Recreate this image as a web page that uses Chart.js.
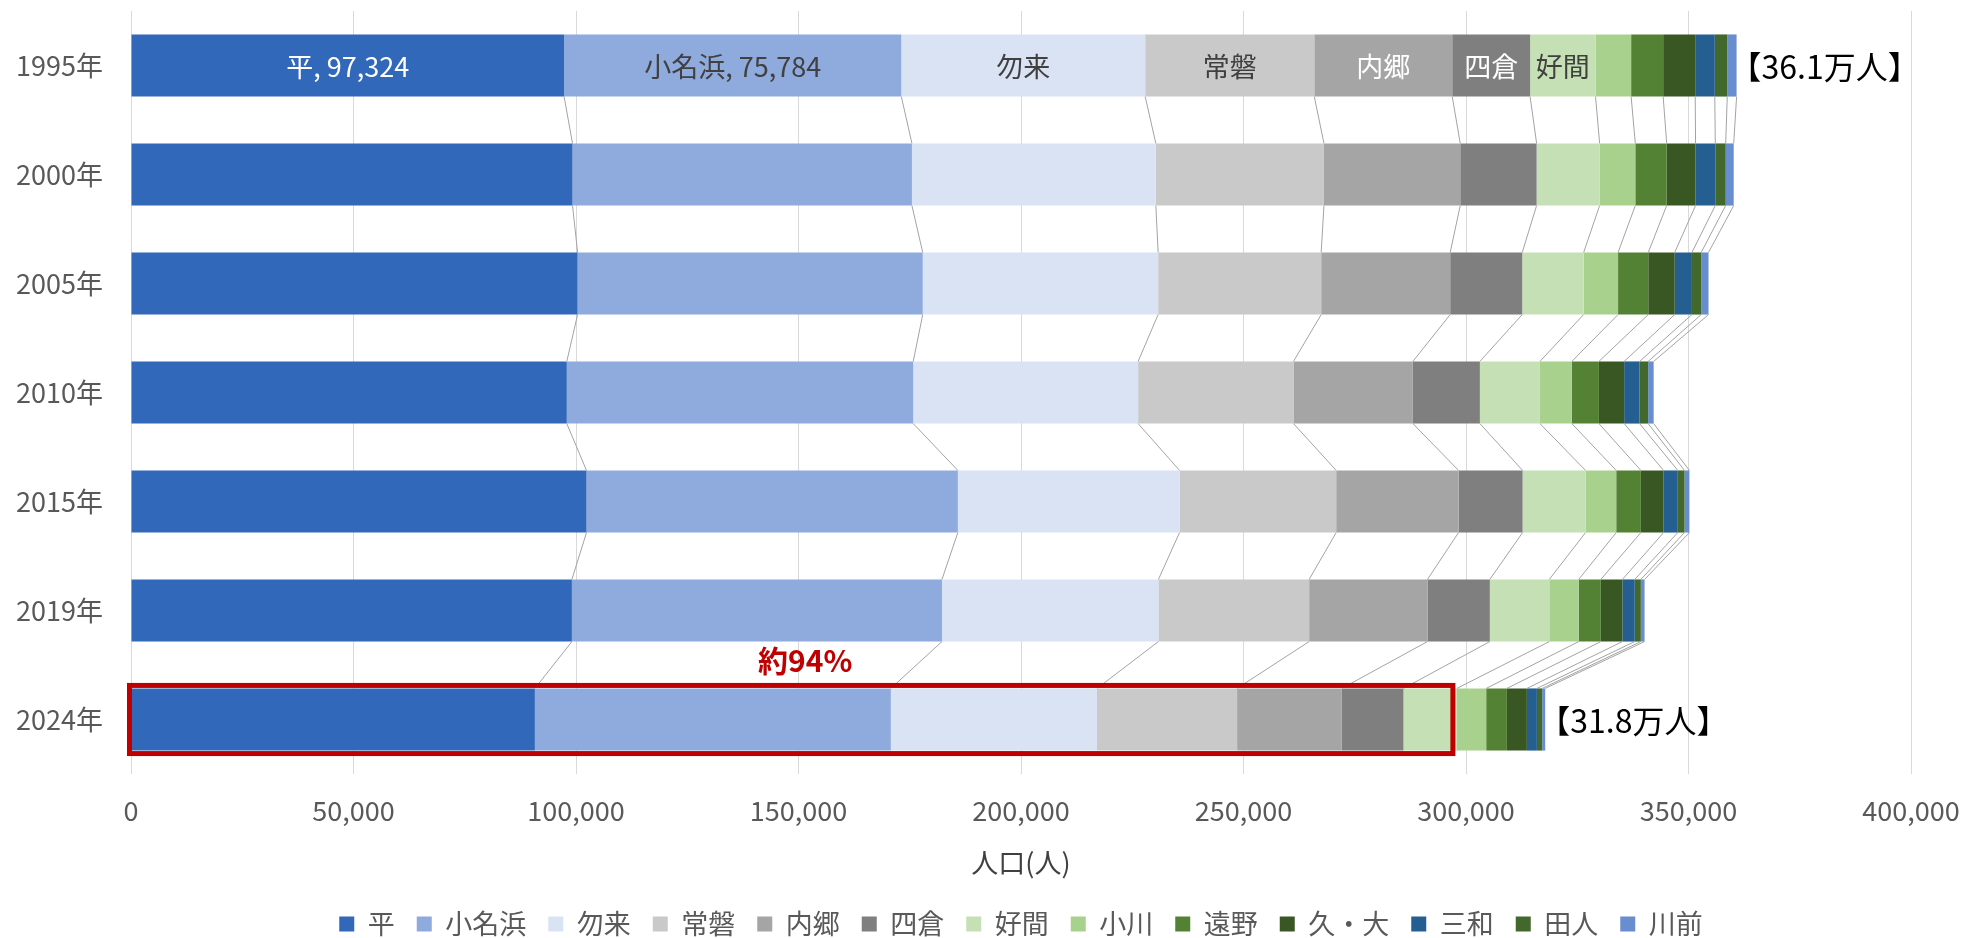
<!DOCTYPE html>
<html>
<head>
<meta charset="utf-8">
<script src="https://cdn.jsdelivr.net/npm/chart.js@4.4.1/dist/chart.umd.min.js"></script>
<style>
html,body{margin:0;padding:0;background:#ffffff;}
#wrap{width:1964px;height:938px;position:relative;}
</style>
</head>
<body>
<div id="wrap"><canvas id="c" width="1964" height="938"></canvas></div>
<script>
// ---- data ----
const years = ['1995年', '2000年', '2005年', '2010年', '2015年', '2019年', '2024年'];
const districts = ['平', '小名浜', '勿来', '常磐', '内郷', '四倉', '好間', '小川', '遠野', '久・大', '三和', '田人', '川前'];
const taira     = [97324, 99220, 100360, 97930, 102360, 99080, 90760];
const onahama   = [75784, 76270, 77560, 77850, 83450, 83160, 79990];
const nakoso    = [54800, 54810, 52900, 50540, 49820, 48640, 46330];
const joban     = [38000, 37780, 36640, 34910, 35200, 33870, 31480];
const uchigo    = [31000, 30630, 28990, 26830, 27500, 26590, 23540];
const yotsukura = [17500, 17160, 16190, 15060, 14390, 14020, 13850];
const yoshima   = [14700, 14160, 13800, 13490, 14150, 13360, 12000];
const ogawa     = [8000, 8020, 7730, 7170, 6890, 6610, 6590];
const tono      = [7200, 7050, 6790, 6090, 5540, 4970, 4650];
const hisaOhisa = [7200, 6490, 5940, 5670, 5100, 4850, 4490];
const miwa      = [4400, 4430, 3870, 3460, 3190, 2770, 2250];
const tabito    = [2800, 2340, 2090, 1930, 1510, 1370, 1190];
const kawamae   = [2100, 1800, 1640, 1240, 1110, 840, 680];
const seriesValues = [taira, onahama, nakoso, joban, uchigo, yotsukura, yoshima, ogawa, tono, hisaOhisa, miwa, tabito, kawamae];
const xTickMin = 0, xTickMax = 400000, xTickStep = 50000;
const axisTitle = '人口(人)';
const totalLabelYears = ['1995年', '2024年'];
const highlightYear = '2024年';
const highlightCount = 7; // 平〜好間

// ---- styles ----
const colors = ['#3168BA', '#8FAADC', '#DAE3F3', '#C9C9C9', '#A5A5A5', '#7F7F7F', '#C5E0B4', '#A9D18E', '#548235', '#385723', '#255E91', '#43682B', '#698ED0'];
const labelColors = ['#FFFFFF', '#404040', '#404040', '#404040', '#FFFFFF', '#FFFFFF', '#404040'];
const FONT = "'Noto Sans CJK JP', 'Noto Sans', sans-serif";

Chart.defaults.font.family = FONT;
Chart.defaults.font.size = 27;
Chart.defaults.color = '#595959';

const datasets = districts.map((name, k) => ({
  label: name,
  data: seriesValues[k],
  backgroundColor: colors[k],
  borderWidth: 0,
  categoryPercentage: 1.0,
  barPercentage: 0.57
}));

const overlay = {
  id: 'overlay',
  afterDatasetsDraw(chart) {
    const ctx = chart.ctx;
    const metas = chart.data.datasets.map((d, i) => chart.getDatasetMeta(i));
    const n = metas.length;
    const nY = chart.data.labels.length;
    ctx.save();
    // series (connector) lines
    ctx.strokeStyle = '#A3A3A3';
    ctx.lineWidth = 1;
    for (let i = 0; i < nY - 1; i++) {
      for (let k = 0; k < n; k++) {
        const a = metas[k].data[i], b = metas[k].data[i + 1];
        ctx.beginPath();
        ctx.moveTo(a.x, a.y + a.height / 2);
        ctx.lineTo(b.x, b.y - b.height / 2);
        ctx.stroke();
      }
    }
    // data labels on first year
    ctx.font = '27px ' + FONT;
    ctx.textAlign = 'center';
    ctx.textBaseline = 'middle';
    for (let k = 0; k < labelColors.length; k++) {
      const el = metas[k].data[0];
      const v = chart.data.datasets[k].data[0];
      const txt = k < 2 ? districts[k] + ', ' + v.toLocaleString('en-US') : districts[k];
      ctx.fillStyle = labelColors[k];
      ctx.fillText(txt, (el.x + el.base) / 2, el.y + 1);
    }
    // totals
    ctx.font = '32px ' + FONT;
    ctx.textAlign = 'left';
    ctx.fillStyle = '#000000';
    totalLabelYears.forEach(yl => {
      const i = chart.data.labels.indexOf(yl);
      let total = 0;
      chart.data.datasets.forEach(d => total += d.data[i]);
      const el = metas[n - 1].data[i];
      ctx.fillText('【' + (total / 10000).toFixed(1) + '万人】', el.x - 7, el.y + 1);
    });
    // highlight box
    const hi = chart.data.labels.indexOf(highlightYear);
    let part = 0, all = 0;
    chart.data.datasets.forEach((d, k) => { all += d.data[hi]; if (k < highlightCount) part += d.data[hi]; });
    const e0 = metas[0].data[hi], e1 = metas[highlightCount - 1].data[hi];
    const x0 = e0.base - 2, x1 = e1.x - 4;
    const top = e0.y - e0.height / 2 - 3, bot = e0.y + e0.height / 2 + 3;
    ctx.strokeStyle = '#C00000';
    ctx.lineWidth = 5;
    ctx.strokeRect(x0, top, x1 - x0, bot - top);
    ctx.font = 'bold 30px ' + FONT;
    ctx.fillStyle = '#C00000';
    ctx.textAlign = 'center';
    ctx.textBaseline = 'middle';
    ctx.fillText('約' + Math.round(part / all * 100) + '%', (x0 + x1) / 2 + 14, top - 25);
    ctx.restore();
  }
};

new Chart(document.getElementById('c'), {
  type: 'bar',
  data: { labels: years, datasets: datasets },
  plugins: [overlay],
  options: {
    indexAxis: 'y',
    responsive: false,
    animation: false,
    locale: 'en-US',
    layout: { padding: { top: 11, left: 0, right: 53, bottom: -9.5 } },
    plugins: {
      legend: {
        position: 'bottom',
        fullSize: false,
        labels: {
          boxWidth: 15,
          boxHeight: 15,
          padding: 22,
          color: '#595959',
          font: { size: 27, family: FONT }
        }
      },
      tooltip: { enabled: false },
      title: { display: false }
    },
    scales: {
      x: {
        stacked: true,
        min: xTickMin,
        max: xTickMax,
        ticks: { stepSize: xTickStep, padding: 21, color: '#595959', font: { size: 27 } },
        grid: { color: '#D9D9D9', lineWidth: 1, drawTicks: false },
        border: { display: false },
        title: { display: true, text: axisTitle, color: '#404040', font: { size: 27 }, padding: { top: 0, bottom: 9.5 } },
        afterFit(s) { s.height = 114.5; s.paddingLeft = 0; s.paddingRight = 0; }
      },
      y: {
        stacked: true,
        ticks: { padding: 28, color: '#595959', font: { size: 27 } },
        grid: { display: false, drawTicks: false },
        border: { display: false },
        afterFit(s) { s.width = 131; s.paddingTop = 0; s.paddingBottom = 0; }
      }
    }
  }
});
</script>
</body>
</html>
